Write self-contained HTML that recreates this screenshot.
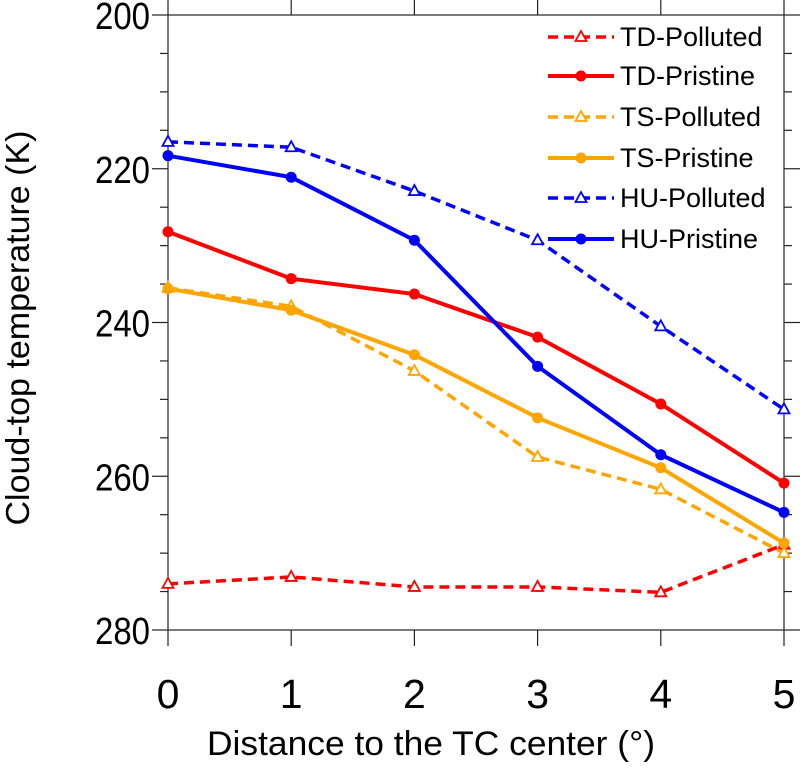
<!DOCTYPE html>
<html><head><meta charset="utf-8"><style>
body{margin:0;background:#fff}
svg text{font-family:"Liberation Sans",sans-serif}
</style></head><body>
<svg id="chart" width="800" height="764" xmlns="http://www.w3.org/2000/svg">
<g id="axes"></g><g id="series"></g><g id="legend"></g>
</svg>
<script>
const categories=[0,1,2,3,4,5];
const yTicks=[200,220,240,260,280];
const seriesNames=["TD-Polluted","TD-Pristine","TS-Polluted","TS-Pristine","HU-Polluted","HU-Pristine"];
const tdPolluted=[274.0,273.1,274.4,274.4,275.1,268.9];
const tdPristine=[228.2,234.3,236.3,241.9,250.6,260.9];
const tsPolluted=[235.5,237.9,246.3,257.5,261.7,270.0];
const tsPristine=[235.6,238.4,244.2,252.4,258.9,268.7];
const huPolluted=[216.5,217.2,222.9,229.3,240.5,251.3];
const huPristine=[218.3,221.1,229.3,245.7,257.2,264.7];
const seriesColors=["#ff0000","#ff0000","#ffa500","#ffa500","#0000ff","#0000ff"];
const NS="http://www.w3.org/2000/svg";
const L=168,R=784,T=15,B=630;
const xs=v=>L+(v-0)/5*(R-L);
const ys=v=>T+(v-200)/80*(B-T);
function mk(tag,at,parent){const e=document.createElementNS(NS,tag);for(const k in at)e.setAttribute(k,at[k]);parent.appendChild(e);return e;}
const ax=document.getElementById('axes');
const frame=mk('rect',{x:L,y:T,width:R-L,height:B-T,fill:'none',stroke:'#222','stroke-width':1.2},ax);


for(let v=200;v<=280;v+=5){const y=ys(v);const len=v%20===0?16:8;
 mk('line',{x1:L-len,x2:L,y1:y,y2:y,stroke:'#222','stroke-width':1.2},ax);
 mk('line',{x1:R,x2:R+len,y1:y,y2:y,stroke:'#222','stroke-width':1.2},ax);}
yTicks.forEach(v=>{const t=mk('text',{x:L-18,y:ys(v)+14,'text-anchor':'end','font-size':38,textLength:55,lengthAdjust:'spacingAndGlyphs'},ax);t.textContent=v;
 
 });
categories.forEach(c=>{const x=xs(c);mk('line',{x1:x,x2:x,y1:B,y2:B+16,stroke:'#222','stroke-width':1.2},ax);
 mk('line',{x1:x,x2:x,y1:T-16,y2:T,stroke:'#222','stroke-width':1.2},ax);
 const t=mk('text',{x:x,y:B+78,'text-anchor':'middle','font-size':41},ax);t.textContent=c;
 
 });
const xt=mk('text',{x:431,y:755,'text-anchor':'middle','font-size':34,textLength:448,lengthAdjust:'spacingAndGlyphs'},ax);xt.textContent="Distance to the TC center (°)";


const yt=mk('text',{x:0,y:0,'text-anchor':'middle','font-size':33,textLength:395,lengthAdjust:'spacingAndGlyphs',transform:'translate(29,328) rotate(-90)'},ax);yt.textContent="Cloud-top temperature (K)";


const allSeries=[tdPolluted,tdPristine,tsPolluted,tsPristine,huPolluted,huPristine];
const sg=document.getElementById('series');
function marker(g,x,y,pol,col){
 if(pol) mk('polygon',{points:`${x},${y-6} ${x-5.5},${y+4} ${x+5.5},${y+4}`,fill:'#fff',stroke:col,'stroke-width':1.8},g);
 else mk('circle',{cx:x,cy:y,r:5.5,fill:col},g);}
allSeries.forEach((d,i)=>{const pol=i%2===0,col=seriesColors[i];
 const g=mk('g',{},sg);
 
 
 const pts=d.map((v,j)=>xs(categories[j])+','+ys(v)).join(' ');
 mk('polyline',{points:pts,fill:'none',stroke:col,'stroke-width':pol?3.5:4,'stroke-dasharray':pol?'10,6':'none'},g);
 d.forEach((v,j)=>marker(g,xs(categories[j]),ys(v),pol,col));});
const lg=document.getElementById('legend');
const rowY=[37,76,117,158,198,239];
seriesNames.forEach((n,i)=>{const pol=i%2===0,col=seriesColors[i];const y=rowY[i];
 const g=mk('g',{},lg);
 
 
 mk('line',{x1:548,x2:614,y1:y,y2:y,stroke:col,'stroke-width':pol?3.5:4,'stroke-dasharray':pol?'10,6':'none'},g);
 marker(g,581,y,pol,col);
 const t=mk('text',{x:620,y:y+9,'font-size':27},g);t.textContent=n;});
</script>
</body></html>
